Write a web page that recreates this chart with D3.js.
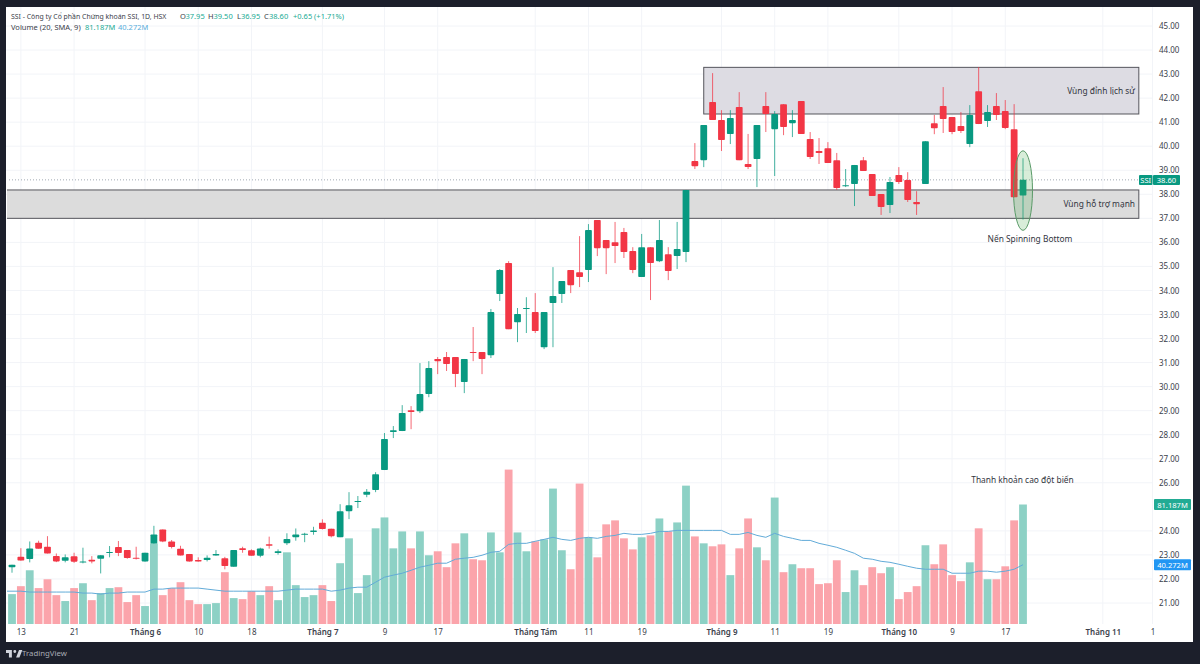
<!DOCTYPE html>
<html>
<head>
<meta charset="utf-8">
<style>
  html, body { margin: 0; padding: 0; background: #1c1f2b; }
  svg { display: block; font-family: "Noto Sans", sans-serif; }
</style>
</head>
<body>
<svg id="chart"></svg>
<script src="https://cdn.jsdelivr.net/npm/d3@7"></script>
<script>
const opens = [
  22.49,22.92,22.83,23.51,23.34,22.95,22.76,22.94,22.69,22.80,
  22.84,23.08,23.33,23.20,22.88,22.73,23.47,24.06,23.56,23.26,
  23.04,22.79,22.79,22.98,22.86,22.51,23.28,23.19,22.97,23.44,
  23.08,23.49,23.73,23.85,23.95,24.34,24.09,23.74,24.82,25.20,
  25.50,25.70,26.53,28.11,28.15,29.02,28.98,29.69,31.15,31.23,
  31.23,30.19,31.44,31.44,31.31,33.85,35.14,32.68,33.23,33.10,
  31.64,33.48,33.85,34.85,34.76,34.85,36.93,36.10,36.01,36.43,
  35.64,34.56,35.80,35.22,35.51,35.43,35.60,39.38,39.42,41.84,
  41.09,40.51,41.63,39.26,39.47,41.67,40.71,41.75,40.96,41.88,
  40.30,39.80,39.92,39.42,38.34,38.43,39.42,38.84,38.01,37.55,
  38.80,38.59,37.68,38.43,40.96,41.67,41.21,40.84,40.09,42.29,
  41.05,41.67,41.46,40.71,37.95
];
const highs = [
  22.59,23.28,23.56,23.59,23.78,23.06,23.02,23.09,23.30,22.95,
  22.99,23.37,23.58,23.20,23.34,23.09,24.21,24.06,23.62,23.38,
  23.04,22.90,22.98,23.20,22.92,23.20,23.34,23.23,23.30,23.76,
  23.23,23.90,24.10,23.92,24.17,24.48,24.09,25.11,25.61,25.45,
  25.74,26.44,28.07,28.36,29.23,29.19,30.98,31.06,31.23,31.44,
  31.23,31.15,32.48,31.44,33.23,34.89,35.22,33.27,33.72,33.89,
  33.10,34.97,34.39,34.85,36.26,36.76,36.93,36.10,36.85,36.60,
  35.80,36.35,35.80,36.93,35.80,36.85,38.18,40.13,40.88,43.04,
  41.50,41.50,42.25,40.51,40.88,42.25,41.46,41.75,41.50,41.88,
  40.59,40.34,40.17,39.72,39.05,39.22,39.55,38.84,38.01,38.72,
  39.13,38.92,38.13,40.21,41.30,42.46,41.21,41.42,41.71,43.29,
  41.71,42.21,41.92,41.75,39.50
];
const lows = [
  22.26,22.76,22.69,23.26,23.06,22.70,22.69,22.67,22.65,22.65,
  22.23,22.90,22.95,22.84,22.81,22.72,23.47,23.53,23.27,22.98,
  22.72,22.72,22.73,22.97,22.40,22.51,23.09,22.97,22.90,23.26,
  23.01,23.41,23.59,23.53,23.84,24.06,23.73,23.74,24.49,24.95,
  25.40,25.61,26.53,27.86,28.15,28.23,28.90,29.56,30.52,30.65,
  29.98,29.73,31.06,30.52,31.19,33.56,32.39,31.85,32.23,32.23,
  31.56,31.64,33.48,33.89,34.14,34.35,35.43,34.68,35.14,35.35,
  34.72,34.56,33.60,35.18,34.43,34.89,35.18,39.05,39.13,41.09,
  39.80,40.09,39.42,39.05,38.30,40.59,38.76,40.46,40.38,40.51,
  39.47,39.26,39.30,38.18,38.30,37.51,38.97,37.93,37.14,37.22,
  38.43,37.68,37.14,38.43,40.50,40.55,40.50,40.55,39.96,40.92,
  40.80,41.09,40.71,37.88,36.95
];
const closes = [
  22.59,22.77,23.27,23.26,23.06,22.73,22.90,22.72,22.73,22.73,
  22.99,23.12,23.08,22.87,22.84,23.09,23.85,23.56,23.33,22.98,
  22.73,22.73,22.88,23.04,22.54,23.20,23.20,22.97,23.27,23.38,
  23.15,23.66,23.85,23.88,24.02,24.08,23.78,24.82,25.07,25.24,
  25.63,26.36,27.82,28.19,28.90,28.94,29.69,30.77,31.06,30.94,
  30.52,31.15,31.40,31.15,33.10,34.85,32.39,33.02,33.27,32.31,
  33.10,33.77,34.39,34.22,34.56,36.51,35.76,35.76,35.85,35.60,
  34.85,35.80,35.14,36.10,34.81,35.72,38.18,39.17,40.88,41.09,
  40.26,41.17,39.42,39.13,40.88,41.34,41.34,40.80,41.09,40.51,
  39.55,39.72,39.30,38.26,38.38,39.22,38.97,37.93,37.47,38.51,
  38.51,37.76,37.59,40.21,40.75,41.13,40.59,40.63,41.30,40.92,
  41.42,41.30,40.76,37.88,38.60
];
// volume in millions
const volumes = [
  20.3,25.7,36.5,24.4,30.4,19.6,15.6,24.4,27.7,16.2,
  21.0,24.4,25.0,14.9,19.6,12.2,54.8,19.6,24.4,28.4,
  16.2,13.5,13.5,14.2,35.2,17.6,16.9,22.3,19.6,25.7,
  16.2,48.7,26.4,18.3,19.6,26.4,15.6,41.3,58.2,21.0,
  33.2,65.0,72.4,51.4,62.9,51.4,62.9,46.7,49.4,38.6,
  54.8,61.6,44.0,43.3,62.2,48.7,104.9,62.2,49.4,56.2,
  57.5,92.0,50.1,37.2,95.4,58.9,45.3,67.7,70.4,58.2,
  50.7,58.9,60.2,71.7,62.9,69.0,94.0,59.5,54.8,52.8,
  54.1,33.2,51.4,71.7,52.1,43.3,85.9,35.2,40.6,37.9,
  37.9,27.1,27.7,43.3,21.7,36.5,26.4,38.6,34.5,38.6,
  16.9,21.7,25.7,53.5,40.6,54.1,33.2,29.1,41.9,65.0,
  30.4,30.4,39.2,70.4,81.187
];
// volume SMA, first value belongs to the bar just left of the window
const volumeSma = [
  22.3,
  22.3,22.3,21.7,21.7,21.7,21.7,21.7,21.7,21.0,21.0,
  20.3,21.0,21.0,21.7,21.7,21.7,23.7,23.7,24.4,24.4,
  24.4,24.4,23.7,23.0,22.3,22.3,22.3,22.3,22.3,22.3,
  22.3,23.0,23.7,23.7,23.7,23.7,22.3,23.0,24.4,25.0,
  25.0,28.4,31.8,33.2,34.5,36.5,38.6,39.9,41.3,41.3,
  44.0,44.7,45.3,46.7,48.7,49.4,54.1,54.8,54.8,56.2,
  57.5,58.9,57.5,56.8,58.2,58.9,58.2,59.5,60.2,61.6,
  60.9,60.9,61.6,62.9,62.9,63.6,63.6,63.6,63.6,63.6,
  63.6,60.9,60.9,62.2,60.2,58.9,61.6,59.5,58.2,56.8,
  56.8,54.8,53.5,52.1,50.1,48.0,44.7,44.0,42.6,41.9,
  40.6,39.2,37.9,37.2,37.2,37.2,34.5,34.5,34.5,35.9,
  35.9,35.2,35.9,37.2,40.272
];
const priceTicks = d3.range(21, 46).filter((p) => p !== 25);
const timeTickBars = [1, 7, 15, 21, 27, 35, 42, 48, 59, 65, 71, 80, 86, 92, 100, 106, 112, 123, 128.6];
const timeTickLabels = ['13', '21', 'Tháng 6', '10', '18', 'Tháng 7', '9', '17', 'Tháng Tám', '11', '19', 'Tháng 9', '11', '19', 'Tháng 10', '9', '17', 'Tháng 11', '1'];

const w = 1200;
const h = 664;
const panel = { left: 6, top: 7, right: 1193, bottom: 642 };
const plotRight = 1153;
const upColor = '#089981';
const downColor = '#f23645';
const upVolColor = '#8dd1c5';
const downVolColor = '#fba4ab';
const textColor = '#3a3e4a';

const svg = d3.select('#chart').attr('width', w).attr('height', h);

const xScale = d3.scaleLinear().domain([0, 114]).range([12, 1023]);
const yScale = d3.scaleLinear().domain([21, 45]).range([603, 26]);
const volScale = d3.scaleLinear().domain([0, 81.187]).range([624, 504.5]);

svg.append('rect').attr('width', w).attr('height', h).attr('fill', '#1c1f2b');
svg.append('rect')
  .attr('x', panel.left)
  .attr('y', panel.top)
  .attr('width', panel.right - panel.left)
  .attr('height', panel.bottom - panel.top)
  .attr('fill', '#ffffff');

svg.append('clipPath').attr('id', 'plot-clip').append('rect')
  .attr('x', panel.left + 1)
  .attr('y', panel.top)
  .attr('width', plotRight - panel.left)
  .attr('height', panel.bottom - panel.top);

// grid
const grid = svg.append('g').attr('stroke', '#f2f4f8').attr('stroke-width', 1);
grid.selectAll('.h').data(priceTicks).enter().append('line')
  .attr('x1', panel.left).attr('x2', plotRight)
  .attr('y1', (d) => yScale(d)).attr('y2', (d) => yScale(d));
grid.selectAll('.v').data(timeTickBars).enter().append('line')
  .attr('x1', (d) => xScale(d)).attr('x2', (d) => xScale(d))
  .attr('y1', panel.top).attr('y2', 624);

const bars = d3.range(opens.length);
const plot = svg.append('g').attr('clip-path', 'url(#plot-clip)');

// volume
plot.selectAll('.vol').data(bars).enter().append('rect')
  .attr('x', (i) => xScale(i) - 3.9)
  .attr('y', (i) => volScale(volumes[i]))
  .attr('width', 7.8)
  .attr('height', (i) => volScale(0) - volScale(volumes[i]))
  .attr('fill', (i) => (closes[i] >= opens[i] ? upVolColor : downVolColor));

const smaLine = d3.line().x((d, i) => xScale(i - 1)).y((d) => volScale(d));
plot.append('path')
  .attr('d', smaLine(volumeSma))
  .attr('fill', 'none')
  .attr('stroke', '#62abd8')
  .attr('stroke-width', 1);

// last price line
plot.append('line')
  .attr('x1', panel.left).attr('x2', 1139)
  .attr('y1', yScale(38.6)).attr('y2', yScale(38.6))
  .attr('stroke', '#8a94a0')
  .attr('stroke-width', 0.8)
  .attr('stroke-dasharray', '1 2');

// price zones
const zones = [
  { from: 78, to: 127.06, top: 43.28, bottom: 41.34, fill: '#dddce3' },
  { from: -1, to: 127.06, top: 38.18, bottom: 37.0, fill: '#dcdcdc' }
];
plot.selectAll('.zone').data(zones).enter().append('rect')
  .attr('x', (d) => xScale(d.from))
  .attr('y', (d) => yScale(d.top))
  .attr('width', (d) => xScale(d.to) - xScale(d.from))
  .attr('height', (d) => yScale(d.bottom) - yScale(d.top))
  .attr('fill', (d) => d.fill)
  .attr('stroke', '#55555c')
  .attr('stroke-width', 1);

// candles
plot.selectAll('.wick').data(bars).enter().append('line')
  .attr('x1', (i) => xScale(i)).attr('x2', (i) => xScale(i))
  .attr('y1', (i) => yScale(highs[i])).attr('y2', (i) => yScale(lows[i]))
  .attr('stroke', (i) => (closes[i] >= opens[i] ? upColor : downColor))
  .attr('stroke-opacity', 0.75)
  .attr('stroke-width', 1);
plot.selectAll('.body').data(bars).enter().append('rect')
  .attr('x', (i) => xScale(i) - 3.4)
  .attr('y', (i) => yScale(Math.max(opens[i], closes[i])))
  .attr('width', 6.8)
  .attr('height', (i) => Math.max(1, Math.abs(yScale(opens[i]) - yScale(closes[i]))))
  .attr('rx', 0.8)
  .attr('fill', (i) => (closes[i] >= opens[i] ? upColor : downColor));

// spinning bottom marker
plot.append('ellipse')
  .attr('cx', xScale(114))
  .attr('cy', (yScale(39.81) + yScale(36.5)) / 2)
  .attr('rx', 9.5)
  .attr('ry', (yScale(36.5) - yScale(39.81)) / 2)
  .attr('fill', 'rgba(76,175,80,0.22)')
  .attr('stroke', '#5a9a68')
  .attr('stroke-width', 1);

// axes
const yAxis = d3.axisRight(yScale)
  .tickValues(priceTicks)
  .tickSize(0)
  .tickPadding(0)
  .tickFormat(d3.format('.2f'));
const yAxisG = svg.append('g').attr('transform', 'translate(1159,0)').call(yAxis);
yAxisG.select('.domain').remove();
yAxisG.selectAll('text').attr('font-size', 8).attr('fill', textColor).attr('font-family', '"Noto Sans", sans-serif');

const xAxis = d3.axisBottom(xScale)
  .tickValues(timeTickBars)
  .tickSize(0)
  .tickPadding(0)
  .tickFormat((d, i) => timeTickLabels[i]);
const xAxisG = svg.append('g').attr('transform', 'translate(0,629)').call(xAxis);
xAxisG.select('.domain').remove();
xAxisG.selectAll('text')
  .attr('font-size', 8)
  .attr('fill', textColor)
  .attr('font-family', '"Noto Sans", sans-serif')
  .attr('font-weight', (d, i) => (timeTickLabels[i].startsWith('Tháng') ? 600 : 400));

// right side price tags
const tags = [
  { label: 'SSI', price: 38.6, x: 1139, width: 13.5, fill: upColor },
  { label: '38.60', price: 38.6, x: 1153, width: 27, fill: upColor }
];
const volTags = [
  { label: '81.187M', vol: 81.187, fill: '#22ab94' },
  { label: '40.272M', vol: 40.272, fill: '#2196f3' }
];
tags.forEach((t) => {
  svg.append('rect').attr('x', t.x).attr('y', yScale(t.price) - 4.8).attr('width', t.width).attr('height', 10).attr('fill', t.fill).attr('rx', 1);
  svg.append('text').attr('x', t.x + t.width / 2).attr('y', yScale(t.price) + 3)
    .attr('text-anchor', 'middle').attr('font-size', 7.6).attr('fill', '#ffffff').text(t.label);
});
volTags.forEach((t) => {
  svg.append('rect').attr('x', 1154).attr('y', volScale(t.vol) - 5.5).attr('width', 37).attr('height', 11).attr('fill', t.fill).attr('rx', 1);
  svg.append('text').attr('x', 1172.5).attr('y', volScale(t.vol) + 3)
    .attr('text-anchor', 'middle').attr('font-size', 7.6).attr('fill', '#ffffff').text(t.label);
});

// annotations
const notes = [
  { text: 'Vùng đỉnh lịch sử', x: 1135, y: 93.5, anchor: 'end' },
  { text: 'Vùng hỗ trợ mạnh', x: 1135, y: 207, anchor: 'end' },
  { text: 'Nến Spinning Bottom', x: 1030, y: 241.5, anchor: 'middle' },
  { text: 'Thanh khoản cao đột biến', x: 1022.5, y: 483, anchor: 'middle' }
];
svg.selectAll('.note').data(notes).enter().append('text')
  .attr('x', (d) => d.x)
  .attr('y', (d) => d.y)
  .attr('text-anchor', (d) => d.anchor)
  .attr('font-size', 8.4)
  .attr('fill', '#33363f')
  .text((d) => d.text);

// legend
const legendRow1 = [
  { text: 'SSI - Công ty Cổ phần Chứng khoán SSI, 1D, HSX', x: 11, fill: textColor, size: 6.9 },
  { text: 'O', x: 180, fill: textColor, size: 7.5 },
  { text: '37.95', x: 185.5, fill: '#22ab94', size: 7.5 },
  { text: 'H', x: 208, fill: textColor, size: 7.5 },
  { text: '39.50', x: 213.5, fill: '#22ab94', size: 7.5 },
  { text: 'L', x: 237, fill: textColor, size: 7.5 },
  { text: '36.95', x: 241, fill: '#22ab94', size: 7.5 },
  { text: 'C', x: 264, fill: textColor, size: 7.5 },
  { text: '38.60', x: 269, fill: '#22ab94', size: 7.5 },
  { text: '+0.65 (+1.71%)', x: 293, fill: '#22ab94', size: 7.5 }
];
const legendRow2 = [
  { text: 'Volume (20, SMA, 9)', x: 11, fill: textColor },
  { text: '81.187M', x: 85, fill: '#22ab94' },
  { text: '40.272M', x: 118, fill: '#5aaedc' }
];
svg.selectAll('.legend1').data(legendRow1).enter().append('text')
  .attr('x', (d) => d.x).attr('y', 19).attr('font-size', (d) => d.size).attr('fill', (d) => d.fill).text((d) => d.text);
svg.selectAll('.legend2').data(legendRow2).enter().append('text')
  .attr('x', (d) => d.x).attr('y', 29.5).attr('font-size', 7.5).attr('fill', (d) => d.fill).text((d) => d.text);

// footer
svg.append('path')
  .attr('transform', 'translate(6,647.5) scale(0.42)')
  .attr('d', 'M14 6H0v7h7v11h7V6Zm18 18h-8l7-18h8l-7 18ZM21 13a3.5 3.5 0 1 0 0-7 3.5 3.5 0 0 0 0 7Z')
  .attr('fill', '#d1d4dc');
svg.append('text')
  .attr('x', 22).attr('y', 656)
  .attr('font-size', 7.8).attr('fill', '#a8abb5')
  .text('TradingView');
</script>
</body>
</html>
